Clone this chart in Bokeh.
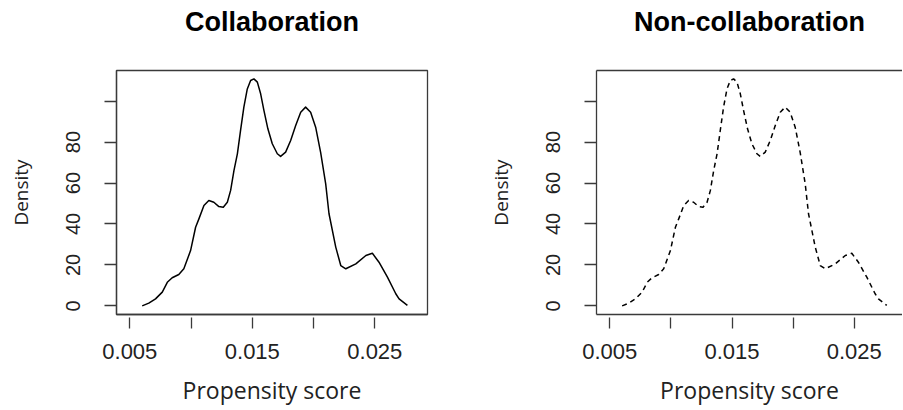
from bokeh.plotting import figure
from bokeh.models import FixedTicker, LinearAxis, Range1d
from bokeh.layouts import row
from bokeh.embed import file_html
from bokeh.resources import INLINE

# ---- data (kernel density of propensity score) ----
propensity = [0.00601, 0.00655, 0.00710, 0.00765, 0.00806, 0.00846, 0.00900, 0.00941,
              0.00996, 0.01037, 0.01064, 0.01105, 0.01145, 0.01186, 0.01227, 0.01263,
              0.01296, 0.01323, 0.01350, 0.01378, 0.01404, 0.01431, 0.01459, 0.01486,
              0.01513, 0.01541, 0.01568, 0.01595, 0.01627, 0.01663, 0.01704, 0.01731,
              0.01772, 0.01813, 0.01854, 0.01895, 0.01935, 0.01976, 0.02017, 0.02058,
              0.02099, 0.02126, 0.02181, 0.02222, 0.02263, 0.02345, 0.02427, 0.02480,
              0.02534, 0.02603, 0.02671, 0.02698, 0.02766]
density_collab = [0.0, 1.3, 3.4, 6.7, 11.5, 13.7, 15.3, 18.1,
                  27.0, 38.4, 42.5, 49.0, 51.5, 50.6, 48.5, 48.2,
                  50.6, 56.4, 66.1, 74.3, 85.7, 97.1, 106.0, 110.1,
                  110.9, 109.3, 103.6, 95.4, 86.5, 79.2, 74.3, 73.0,
                  75.1, 80.8, 88.1, 94.6, 97.1, 94.6, 87.3, 74.9,
                  59.6, 45.0, 28.7, 19.7, 18.1, 20.5, 24.6, 25.7,
                  21.3, 14.0, 5.9, 3.4, 0.2]
density_noncollab = [0.0, 1.3, 3.4, 6.7, 11.5, 13.7, 15.3, 18.1,
                     27.0, 38.4, 42.5, 49.0, 51.5, 50.6, 48.5, 48.2,
                     50.6, 56.4, 66.1, 74.3, 85.7, 97.1, 106.0, 110.1,
                     110.9, 109.3, 103.6, 95.4, 86.5, 79.2, 74.3, 73.0,
                     75.1, 80.8, 88.1, 94.6, 97.1, 94.6, 87.3, 74.9,
                     59.6, 45.0, 28.7, 19.7, 18.1, 20.5, 24.6, 25.7,
                     21.3, 14.0, 5.9, 3.4, 0.2]

x_tick_values = [0.005, 0.010, 0.015, 0.020, 0.025]
x_tick_labels = ["0.005", "", "0.015", "", "0.025"]
y_tick_values = [0, 20, 40, 60, 80, 100]
y_tick_labels = ["0", "20", "40", "60", "80", ""]

titles = ["Collaboration", "Non-collaboration"]
x_label = "Propensity score"
y_label = "Density"

INK = "#222222"
BOX = "#3a3a3a"


def make_panel(title, xs, ys, dash, width, border_left, border_right, x_end, full_box):
    p = figure(width=width, height=410, output_backend="svg", toolbar_location=None,
               x_range=Range1d(0.003913, x_end), y_range=Range1d(-4.24, 115.0),
               min_border_left=border_left, min_border_right=border_right,
               min_border_top=70, min_border_bottom=96,
               x_axis_label=x_label, y_axis_label=y_label)
    p.grid.visible = False
    p.background_fill_color = "white"
    p.border_fill_color = "white"

    xa = p.below[0]
    ya = p.left[0]

    # top edge of the box; the panel title sits above it as the axis label
    top = LinearAxis(ticker=FixedTicker(ticks=[]), major_tick_out=0, major_tick_in=0,
                     major_tick_line_color=None, minor_tick_line_color=None,
                     major_label_standoff=0, major_label_text_font_size="0px",
                     axis_line_color=BOX if not full_box else None, axis_line_width=1.3,
                     axis_label=title, axis_label_standoff=34,
                     axis_label_text_font="Liberation Sans",
                     axis_label_text_font_style="bold",
                     axis_label_text_font_size="27px",
                     axis_label_text_color="black")
    p.add_layout(top, "above")

    if full_box:
        p.outline_line_color = BOX
        p.outline_line_width = 1.3
    else:
        p.outline_line_color = None

    xa.ticker = FixedTicker(ticks=x_tick_values)
    xa.major_label_overrides = dict(zip(x_tick_values, x_tick_labels))
    xa.major_tick_out = 14
    xa.major_tick_in = -3
    xa.major_tick_line_color = BOX
    xa.major_tick_line_width = 1.3
    xa.minor_tick_line_color = None
    xa.axis_line_color = BOX
    xa.axis_line_width = 1.3
    xa.major_label_text_font = "Liberation Sans"
    xa.major_label_text_font_size = "22px"
    xa.major_label_text_color = INK
    xa.major_label_standoff = 15
    xa.axis_label_text_font = "Open Sans"
    xa.axis_label_text_font_size = "23px"
    xa.axis_label_text_font_style = "normal"
    xa.axis_label_text_color = INK
    xa.axis_label_standoff = 12

    ya.ticker = FixedTicker(ticks=y_tick_values)
    ya.major_label_overrides = dict(zip(y_tick_values, y_tick_labels))
    ya.major_tick_out = 12
    ya.major_tick_in = 0
    ya.major_tick_line_color = BOX
    ya.major_tick_line_width = 1.3
    ya.minor_tick_line_color = None
    ya.axis_line_color = BOX
    ya.axis_line_width = 1.3
    ya.major_label_orientation = "parallel"
    ya.major_label_text_font = "Liberation Sans"
    ya.major_label_text_font_size = "20px"
    ya.major_label_text_color = INK
    ya.major_label_standoff = 24
    ya.axis_label_text_font = "Open Sans"
    ya.axis_label_text_font_size = "19px"
    ya.axis_label_text_font_style = "normal"
    ya.axis_label_text_color = INK
    ya.axis_label_standoff = 30

    p.line(xs, ys, line_color="black", line_width=1.5, line_dash=dash, line_join="round")
    return p


p1 = make_panel(titles[0], propensity, density_collab, "solid", 478, 116, 51, 0.02930, True)
p2 = make_panel(titles[1], propensity, density_noncollab, "5 4", 424, 118, 0, 0.02895, False)

layout = row(p1, p2)
open("out.html", "w").write(file_html(layout, INLINE))
